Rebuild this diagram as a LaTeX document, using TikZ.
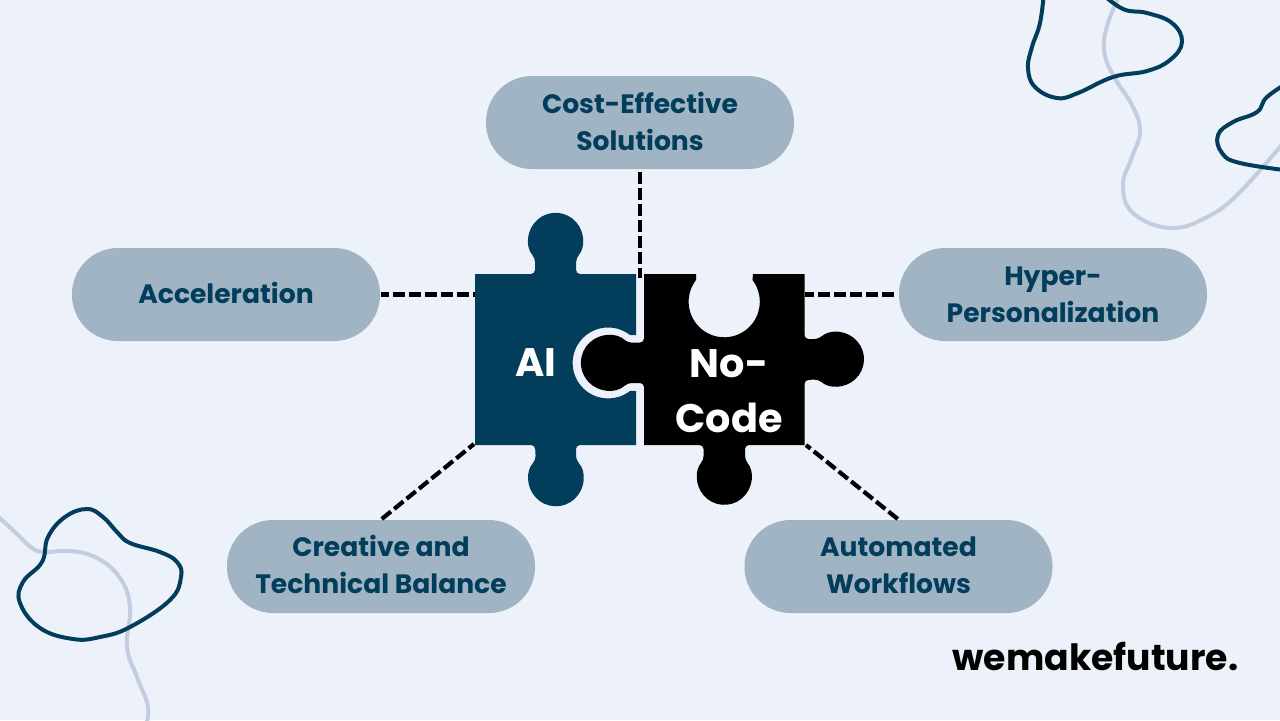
\documentclass[tikz,border=0pt]{standalone}
\usepackage{fontspec}
\setmainfont{Poppins}
\definecolor{pagebg}{HTML}{ECF1FA}
\definecolor{pillgray}{HTML}{A0B4C3}
\definecolor{deepblue}{HTML}{023E5C}
\definecolor{paleline}{HTML}{C3CDDF}
\tikzset{
    pill/.style={fill=pillgray, text=deepblue, font=\bfseries\fontsize{13.3}{18.5}\selectfont, align=center,
        rounded corners=23pt, minimum width=154pt, minimum height=46.5pt, inner sep=0pt, text depth=1.2pt},
    piecelabel/.style={text=white, font=\bfseries\fontsize{19.9}{27.5}\selectfont, align=center, inner sep=0pt},
    dashline/.style={line width=2.1pt, dash pattern=on 5.9pt off 2.1pt, shorten <=0.5pt},
    blobdark/.style={draw=deepblue, line width=2pt},
    blobpale/.style={draw=paleline, line width=2pt},
}
\begin{document}
\begin{tikzpicture}[y={-0.5pt}, x={0.5pt}]
    \useasboundingbox (0,0) rectangle (1280,720);
    \fill[pagebg] (0,0) rectangle (1280,720);
    \clip (0,0) rectangle (1280,720);
    % background blobs
    \draw[blobpale] plot[smooth, tension=0.7] coordinates {(1121,-8) (1108,23) (1104,50) (1113,75) (1133,107) (1140,132) (1132,157) (1123,185) (1133,213) (1170,228) (1207,217) (1240,192) (1290,135)};
    \draw[blobpale] plot[smooth, tension=0.7] coordinates {(-8,511) (15,532) (32,548) (45,552) (70,551) (97,558) (120,578) (130,607) (127,647) (137,677) (148,707) (145,728)};
    \draw[blobdark] plot[smooth, tension=0.7] coordinates {(1044,-8) (1040,23) (1032,47) (1028,68) (1035,87) (1057,98) (1078,93) (1113,77) (1147,71) (1170,60) (1182,42) (1172,23) (1147,13) (1123,9) (1100,-8)};
    \draw[blobdark] plot[smooth, tension=0.7] coordinates {(1292,80) (1267,97) (1257,112) (1233,122) (1218,135) (1222,153) (1240,163) (1292,171)};
    \draw[blobdark] plot[smooth cycle, tension=0.7] coordinates {(87,509) (103,517) (117,532) (130,543) (160,552) (177,562) (181,577) (170,600) (130,627) (100,637) (73,639) (40,628) (20,603) (23,582) (42,562) (48,537) (65,517)};
    % puzzle pieces
    \fill[deepblue] (475,274) [rounded corners=2pt] -- (535,274) -- (535,258)
        arc[start angle=139, end angle=401, radius=27.3] -- (576,274) -- (600,274) [sharp corners] -- (636,274) -- (636,335) -- (630,335)
        arc[start angle=-52, end angle=-308, radius=35.5] -- (636,391) -- (636,445) [rounded corners=2pt] -- (600,445) -- (576,445) -- (576,460)
        arc[start angle=-43, end angle=223, radius=27.5] -- (535,445) -- (510,445) [sharp corners] -- (475,445) -- cycle;
    \fill[black] (644,274) -- (696,274) -- (696,280)
        arc[start angle=217.5, end angle=-37.5, radius=35.6] -- (753,274) -- (804.5,274) [rounded corners=2pt] -- (804.5,339) -- (818.6,339)
        arc[start angle=228, end angle=492, radius=27.2] -- (804.5,380) [sharp corners] -- (804.5,445) [rounded corners=2pt] -- (745,445) -- (745,460)
        arc[start angle=-40.4, end angle=220.4, radius=27.2] -- (703.6,445) -- (680,445) [sharp corners] -- (644,445) [rounded corners=2pt] -- (644,383) -- (627.5,383)
        arc[start angle=46.8, end angle=313.2, radius=27.7] -- (644,342.6) -- (644,320) [sharp corners] -- cycle;
    % labels
    \node[pill] (costNode) at (640,122.5) {Cost-Effective\\Solutions};
    \node[pill] (accelNode) at (226,294.5) {Acceleration};
    \node[pill, text depth=0pt] (hyperNode) at (1053,294.5) {Hyper-\\Personalization};
    \node[pill, text depth=2.2pt] (balanceNode) at (381,566.5) {Creative and\\Technical Balance};
    \node[pill] (autoNode) at (898.5,566.5) {Automated\\Workflows};
    \node[piecelabel] (aiNode) at (536,363) {AI};
    \node[piecelabel] (codeNode) at (729,391) {No-\\Code};
    \node[inner sep=0pt, font=\bfseries\fontsize{18.1}{20}\selectfont] (brandNode) at (1095.5,656) {wemakefuture.};
    % connector ends on the pieces
    \coordinate (aiTop) at (640,278);
    \coordinate (aiLeft) at (475,294.5);
    \coordinate (aiCorner) at (474,444);
    \coordinate (codeRight) at (805,294.5);
    \coordinate (codeCorner) at (806,445);
    \foreach \a/\b/\p in {costNode.south/aiTop/7.3pt, accelNode.east/aiLeft/2pt, hyperNode.west/codeRight/6pt, balanceNode.north/aiCorner/0pt, autoNode.north/codeCorner/0pt} {
        \draw[dashline, dash phase=\p] (\a) -- (\b);
    }
\end{tikzpicture}
\end{document}
